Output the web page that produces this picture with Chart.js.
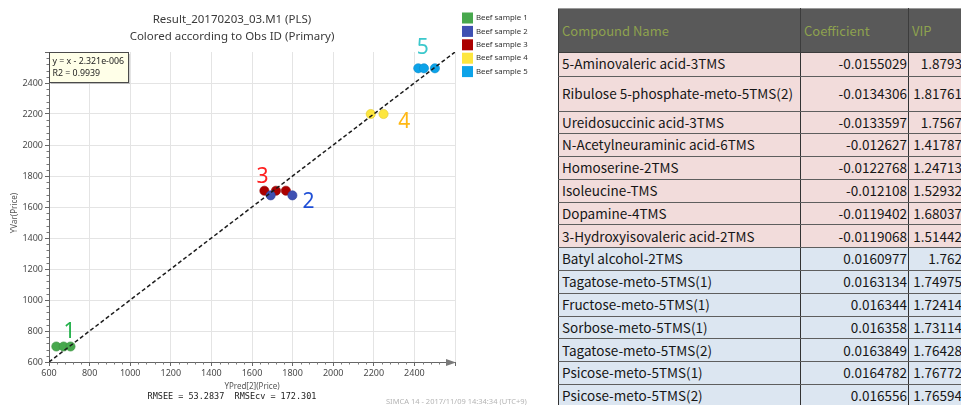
<!DOCTYPE html>
<html>
<head>
<meta charset="utf-8">
<script src="https://cdn.jsdelivr.net/npm/chart.js@4.4.1/dist/chart.umd.min.js"></script>
<style>
  html, body { margin: 0; padding: 0; background: #fff; width: 961px; height: 405px; overflow: hidden; }
  #plot { position: absolute; left: 0; top: 0; }
  #tbl {
    position: absolute; left: 558px; top: 8px;
    border-collapse: collapse; table-layout: fixed; width: 414px;
    font-family: "Noto Sans CJK JP", "Noto Sans", sans-serif; font-size: 13.5px; color: #161616;
  }
  #tbl th {
    background: #595959; color: #8ea24e; font-weight: normal; text-align: left; font-size: 13px;
    height: 42.5px; padding: 0 3px; border: 1px solid #3c3c3c; border-top-color: #9a9a9a;
    white-space: nowrap; overflow: hidden;
  }
  #tbl td {
    padding: 0 3px; line-height: 1; white-space: nowrap; overflow: hidden;
    border-top: 1px solid #5e5e5e; border-bottom: 1px solid #5e5e5e;
    border-left: 1px solid #333; border-right: 1px solid #333;
  }
  #tbl td.num { text-align: right; padding-right: 1px; }
  #tbl td.vip { text-align: right; padding-right: 10px; }
  #tbl tbody tr { height: 22.8px; }
  #tbl tbody tr:nth-child(1) { height: 24px; }
  #tbl tbody tr:nth-child(2) { height: 35px; }
  #tbl tr.neg td { background: #f2dcdb; }
  #tbl tr.pos td { background: #dce6f1; }
</style>
</head>
<body>
<canvas id="plot" width="540" height="405"></canvas>
<table id="tbl">
  <colgroup><col style="width:242px"><col style="width:108px"><col style="width:64px"></colgroup>
  <thead><tr id="hdr"></tr></thead>
  <tbody id="rows"></tbody>
</table>
<script>
// ---- plot data: predicted vs observed price per beef sample ----
const sampleNames  = ['Beef sample 1', 'Beef sample 2', 'Beef sample 3', 'Beef sample 4', 'Beef sample 5'];
const sampleIds    = ['1', '2', '3', '4', '5'];
const s1Pred = [636, 672, 706];
const s1Obs  = [700, 700, 700];
const s2Pred = [1692, 1799];
const s2Obs  = [1675, 1675];
const s3Pred = [1661, 1718, 1767];
const s3Obs  = [1705, 1705, 1705];
const s4Pred = [2185, 2248];
const s4Obs  = [2200, 2200];
const s5Pred = [2419, 2447, 2501];
const s5Obs  = [2495, 2495, 2495];

// axis ticks
const axisMin = 600, axisMax = 2600, majorStep = 200, minorStep = 40;

// fitted line and model statistics
const fitSlope = 1, fitIntercept = -2.321e-6, fitR2 = 0.9939;
const fitEnds = [600, 2600];
const rmsee = 53.2837, rmsecv = 172.301;

// ---- table data: top-ranked compounds ----
const tableHeaders  = ['Compound Name', 'Coefficient', 'VIP'];
const compoundNames = [
  '5-Aminovaleric acid-3TMS', 'Ribulose 5-phosphate-meto-5TMS(2)', 'Ureidosuccinic acid-3TMS',
  'N-Acetylneuraminic acid-6TMS', 'Homoserine-2TMS', 'Isoleucine-TMS', 'Dopamine-4TMS',
  '3-Hydroxyisovaleric acid-2TMS', 'Batyl alcohol-2TMS', 'Tagatose-meto-5TMS(1)',
  'Fructose-meto-5TMS(1)', 'Sorbose-meto-5TMS(1)', 'Tagatose-meto-5TMS(2)',
  'Psicose-meto-5TMS(1)', 'Psicose-meto-5TMS(2)'
];
const coefficients = [
  -0.0155029, -0.0134306, -0.0133597, -0.012627, -0.0122768, -0.012108, -0.0119402,
  -0.0119068, 0.0160977, 0.0163134, 0.016344, 0.016358, 0.0163849, 0.0164782, 0.016556
];
const vipValues = [
  1.8793, 1.81761, 1.7567, 1.41787, 1.24713, 1.52932, 1.68037,
  1.51442, 1.762, 1.74975, 1.72414, 1.73114, 1.76428, 1.76772, 1.76594
];

// ---- styling ----
const sampleFill   = ['#47a84d', '#3f50b2', '#ab0000', '#fde63e', '#0ca3e9'];
const sampleEdge   = ['#3a9240', '#34449c', '#920000', '#e2c92c', '#0a8ccb'];
const idColors     = ['#22b04a', '#1f4fd6', '#ff1e1e', '#ffb814', '#3cc8cc'];
// pixel offsets of each id label from its cluster centre
const idOffsets    = [[6, -14], [27, 7], [-13, -14], [27, 8], [-3, -20]];
const uiFont = '"Noto Sans", "Open Sans", sans-serif';

// ---- build table ----
const hdr = document.getElementById('hdr');
tableHeaders.forEach(h => { const th = document.createElement('th'); th.textContent = h; hdr.appendChild(th); });
const body = document.getElementById('rows');
compoundNames.forEach((name, i) => {
  const tr = document.createElement('tr');
  tr.className = coefficients[i] < 0 ? 'neg' : 'pos';
  const c1 = document.createElement('td'); c1.textContent = name;
  const c2 = document.createElement('td'); c2.className = 'num'; c2.textContent = String(coefficients[i]);
  const c3 = document.createElement('td'); c3.className = 'vip'; c3.textContent = String(vipValues[i]);
  tr.append(c1, c2, c3);
  body.appendChild(tr);
});

// ---- build chart ----
const preds = [s1Pred, s2Pred, s3Pred, s4Pred, s5Pred];
const obs   = [s1Obs, s2Obs, s3Obs, s4Obs, s5Obs];

const fitData = fitEnds.map(v => ({ x: v, y: fitSlope * v + fitIntercept }));
const datasets = [{
  type: 'line', label: 'fit', data: fitData,
  borderColor: '#1c1c1c', borderWidth: 1.5, borderDash: [4, 2.5],
  pointRadius: 0, fill: false
}];
sampleNames.forEach((n, i) => {
  datasets.push({
    label: n,
    data: preds[i].map((p, k) => ({ x: p, y: obs[i][k] })),
    backgroundColor: sampleFill[i], borderColor: sampleEdge[i], borderWidth: 0.6,
    pointRadius: 4.6
  });
});

const decor = {
  id: 'decor',
  afterDraw(chart) {
    const { ctx, chartArea: a, scales: { x, y } } = chart;
    ctx.save();

    // minor ticks on both axes
    ctx.strokeStyle = '#777'; ctx.lineWidth = 1;
    for (let v = axisMin; v <= axisMax; v += minorStep) {
      if (v % majorStep === 0) continue;
      const px = Math.round(x.getPixelForValue(v)) + 0.5;
      ctx.beginPath(); ctx.moveTo(px, a.bottom); ctx.lineTo(px, a.bottom + 2.5); ctx.stroke();
      const py = Math.round(y.getPixelForValue(v)) + 0.5;
      ctx.beginPath(); ctx.moveTo(a.left, py); ctx.lineTo(a.left - 2.5, py); ctx.stroke();
    }
    // arrow head at the end of the x axis
    ctx.fillStyle = '#7a7a7a';
    ctx.beginPath();
    ctx.moveTo(a.right - 9, a.bottom - 3);
    ctx.lineTo(a.right + 1, a.bottom + 0.5);
    ctx.lineTo(a.right - 9, a.bottom + 4);
    ctx.closePath(); ctx.fill();

    // equation box
    const bx = a.left + 0.5, by = a.top + 0.5, bw = 79, bh = 30;
    ctx.fillStyle = 'rgba(0,0,0,0.18)';
    ctx.fillRect(bx + 1.5, by + 1.5, bw, bh);
    ctx.fillStyle = '#ffffe8';
    ctx.fillRect(bx, by, bw, bh);
    ctx.strokeStyle = '#4a4a4a'; ctx.lineWidth = 1;
    ctx.strokeRect(bx, by, bw, bh);
    ctx.fillStyle = '#222';
    ctx.font = '8.8px ' + uiFont;
    ctx.textAlign = 'left'; ctx.textBaseline = 'middle';
    ctx.fillText('y = x - 2.321e-006', bx + 3, by + 9);
    ctx.fillText('R2 = ' + fitR2, bx + 3, by + 21);

    // cluster id labels
    ctx.font = '21px ' + uiFont;
    ctx.textAlign = 'center';
    sampleIds.forEach((id, i) => {
      const mx = preds[i].reduce((s, v) => s + x.getPixelForValue(v), 0) / preds[i].length;
      const my = obs[i].reduce((s, v) => s + y.getPixelForValue(v), 0) / obs[i].length;
      ctx.fillStyle = idColors[i];
      ctx.fillText(id, mx + idOffsets[i][0], my + idOffsets[i][1]);
    });

    // titles
    ctx.fillStyle = '#3a3a3a';
    ctx.font = '11.5px ' + uiFont;
    ctx.fillText('Result_20170203_03.M1 (PLS)', 232, 20);
    ctx.fillText('Colored according to Obs ID (Primary)', 232, 37);

    // legend
    ctx.textAlign = 'left';
    ctx.font = '7.8px ' + uiFont;
    sampleNames.forEach((n, i) => {
      const top = 12.5 + i * 13.4;
      ctx.fillStyle = sampleFill[i];
      ctx.fillRect(a.right + 7, top, 11, 11);
      ctx.fillStyle = '#333';
      ctx.fillText(n, a.right + 21, top + 5.5);
    });

    // axis titles
    ctx.fillStyle = '#555';
    ctx.font = '8px ' + uiFont;
    ctx.textAlign = 'center';
    ctx.fillText('YPred[2](Price)', (a.left + a.right) / 2, 386.5);
    ctx.save();
    ctx.translate(15, (a.top + a.bottom) / 2 + 6);
    ctx.rotate(-Math.PI / 2);
    ctx.fillText('YVar(Price)', 0, 0);
    ctx.restore();

    // model statistics and footer
    ctx.fillStyle = '#222';
    ctx.font = '8.5px "DejaVu Sans Mono", monospace';
    ctx.fillText('RMSEE = ' + rmsee + '  RMSEcv = ' + rmsecv, 232, 396.5);
    ctx.fillStyle = '#b4b4b4';
    ctx.font = '7.5px ' + uiFont;
    ctx.textAlign = 'left';
    ctx.fillText('SIMCA 14 - 2017/11/09 14:34:34 (UTC+9)', 386, 401.5);

    ctx.restore();
  }
};

const tickFont = { family: uiFont, size: 9 };
const hideTop = v => (v === axisMax ? '' : v);

new Chart(document.getElementById('plot'), {
  type: 'scatter',
  data: { datasets },
  options: {
    responsive: false, animation: false, devicePixelRatio: 1,
    layout: { padding: { top: 52, right: 85, left: 0, bottom: 0 } },
    plugins: { legend: { display: false }, tooltip: { enabled: false }, title: { display: false } },
    scales: {
      x: {
        type: 'linear', min: axisMin, max: axisMax,
        afterFit(s) { s.height = 43; },
        ticks: { stepSize: majorStep, autoSkip: false, maxRotation: 0, padding: 2, color: '#4a4a4a', font: tickFont, callback: hideTop },
        grid: { color: '#e4e4e4', tickColor: '#666', tickLength: 4 },
        border: { color: '#666' }
      },
      y: {
        type: 'linear', min: axisMin, max: axisMax,
        afterFit(s) { s.width = 49; },
        ticks: { stepSize: majorStep, autoSkip: false, padding: 2, color: '#4a4a4a', font: tickFont, callback: hideTop },
        grid: { color: c => (c.tick && c.tick.value === axisMax ? 'rgba(0,0,0,0)' : '#e4e4e4'), tickColor: '#666', tickLength: 4 },
        border: { color: '#666' }
      }
    }
  },
  plugins: [decor]
});
</script>
</body>
</html>
